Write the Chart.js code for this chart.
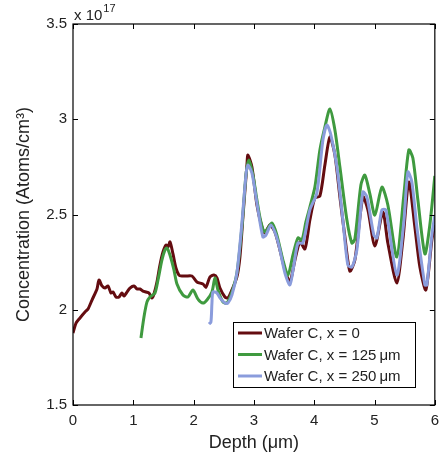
<!DOCTYPE html>
<html>
<head>
<meta charset="utf-8">
<script src="https://cdn.jsdelivr.net/npm/chart.js@4"></script>
<style>
  html, body { margin: 0; padding: 0; background: #fff; }
  #wrap { width: 446px; height: 458px; }
</style>
</head>
<body>
<div id="wrap"><canvas id="chart" width="446" height="458"></canvas></div>
<script>
// depth in µm, concentration in units of 1e17 atoms/cm³
const depthX0 = [0, 0.05, 0.116, 0.199, 0.249, 0.315, 0.398, 0.431, 0.481, 0.53, 0.58, 0.63, 0.663, 0.713, 0.762, 0.812, 0.845, 0.895, 0.945, 1.011, 1.061, 1.111, 1.16, 1.21, 1.26, 1.309, 1.343, 1.392, 1.442, 1.492, 1.542, 1.575, 1.608, 1.658, 1.707, 1.757, 1.807, 1.873, 1.972, 2.055, 2.155, 2.205, 2.271, 2.337, 2.387, 2.437, 2.519, 2.569, 2.635, 2.718, 2.768, 2.818, 2.884, 2.901, 2.967, 3.05, 3.133, 3.183, 3.265, 3.348, 3.431, 3.514, 3.597, 3.68, 3.763, 3.846, 3.928, 4.011, 4.094, 4.177, 4.26, 4.343, 4.426, 4.509, 4.591, 4.674, 4.807, 4.89, 5.006, 5.138, 5.221, 5.37, 5.47, 5.569, 5.669, 5.752, 5.851, 5.951, 6.0];
const concX0 = [1.878, 1.93, 1.957, 1.988, 2.004, 2.051, 2.109, 2.156, 2.125, 2.114, 2.125, 2.088, 2.093, 2.067, 2.067, 2.088, 2.072, 2.093, 2.114, 2.125, 2.109, 2.109, 2.098, 2.093, 2.088, 2.062, 2.083, 2.146, 2.235, 2.303, 2.34, 2.329, 2.356, 2.293, 2.219, 2.182, 2.177, 2.177, 2.177, 2.146, 2.135, 2.119, 2.172, 2.182, 2.167, 2.114, 2.067, 2.062, 2.104, 2.172, 2.277, 2.487, 2.76, 2.812, 2.749, 2.55, 2.434, 2.403, 2.445, 2.408, 2.314, 2.209, 2.146, 2.261, 2.356, 2.319, 2.471, 2.587, 2.597, 2.76, 2.907, 2.812, 2.592, 2.382, 2.203, 2.261, 2.592, 2.524, 2.335, 2.513, 2.35, 2.14, 2.366, 2.671, 2.434, 2.224, 2.104, 2.366, 2.445];

const depthX125 = [1.127, 1.177, 1.227, 1.276, 1.359, 1.409, 1.475, 1.525, 1.558, 1.608, 1.674, 1.724, 1.823, 1.906, 1.989, 2.072, 2.155, 2.221, 2.304, 2.354, 2.403, 2.486, 2.553, 2.635, 2.718, 2.801, 2.868, 2.917, 2.984, 3.05, 3.116, 3.183, 3.298, 3.381, 3.481, 3.564, 3.647, 3.73, 3.796, 3.862, 3.928, 4.011, 4.094, 4.177, 4.26, 4.343, 4.426, 4.542, 4.625, 4.674, 4.774, 4.84, 4.923, 5.006, 5.122, 5.221, 5.37, 5.486, 5.569, 5.636, 5.719, 5.835, 5.917, 6.0];
const concX125 = [1.852, 1.962, 2.041, 2.067, 2.088, 2.156, 2.261, 2.314, 2.324, 2.287, 2.209, 2.135, 2.077, 2.067, 2.104, 2.056, 2.035, 2.051, 2.093, 2.167, 2.104, 2.041, 2.035, 2.093, 2.193, 2.434, 2.707, 2.786, 2.707, 2.576, 2.461, 2.408, 2.455, 2.392, 2.261, 2.182, 2.287, 2.377, 2.366, 2.461, 2.539, 2.644, 2.839, 2.959, 3.054, 2.944, 2.749, 2.471, 2.35, 2.371, 2.655, 2.707, 2.608, 2.497, 2.644, 2.55, 2.277, 2.602, 2.839, 2.797, 2.576, 2.293, 2.445, 2.702];

const depthX250 = [2.254, 2.287, 2.304, 2.321, 2.387, 2.437, 2.519, 2.569, 2.635, 2.718, 2.801, 2.868, 2.901, 2.967, 3.05, 3.149, 3.199, 3.282, 3.365, 3.431, 3.514, 3.597, 3.663, 3.73, 3.812, 3.928, 4.044, 4.144, 4.21, 4.277, 4.376, 4.475, 4.558, 4.625, 4.707, 4.807, 4.873, 4.989, 5.039, 5.122, 5.188, 5.37, 5.486, 5.553, 5.619, 5.702, 5.835, 5.868, 5.951, 6.0];
const concX250 = [1.925, 1.936, 2.035, 2.093, 2.088, 2.062, 2.035, 2.035, 2.077, 2.193, 2.455, 2.707, 2.76, 2.718, 2.56, 2.382, 2.392, 2.445, 2.392, 2.314, 2.193, 2.13, 2.235, 2.35, 2.35, 2.524, 2.613, 2.891, 2.97, 2.917, 2.749, 2.471, 2.235, 2.224, 2.314, 2.618, 2.592, 2.392, 2.377, 2.524, 2.524, 2.182, 2.461, 2.723, 2.671, 2.434, 2.13, 2.13, 2.392, 2.497];

const seriesLabels = ['Wafer C, x = 0', 'Wafer C, x = 125\u2009\u03bcm', 'Wafer C, x = 250\u2009\u03bcm'];
const seriesColors = ['#640c10', '#3f9a3f', '#8a9cdc'];
const xTicks = [0, 1, 2, 3, 4, 5, 6];
const yTicks = [1.5, 2, 2.5, 3, 3.5];

const FONT = 'Liberation Sans, Arial, Helvetica, sans-serif';

const toPoints = (xs, ys) => xs.map((x, i) => ({ x, y: ys[i] }));

// frame, inward ticks, exponent note and the boxed legend
const decorations = {
  id: 'decorations',
  afterDraw(chart) {
    const { ctx, chartArea: a, scales: { x, y } } = chart;
    ctx.save();
    ctx.strokeStyle = '#000';
    ctx.lineWidth = 1.2;
    ctx.strokeRect(a.left, a.top, a.right - a.left, a.bottom - a.top);

    const tl = 5;
    ctx.lineWidth = 1;
    ctx.beginPath();
    xTicks.forEach((v) => {
      const px = Math.round(x.getPixelForValue(v)) + 0.5;
      ctx.moveTo(px, a.bottom); ctx.lineTo(px, a.bottom - tl);
      ctx.moveTo(px, a.top); ctx.lineTo(px, a.top + tl);
    });
    yTicks.forEach((v) => {
      const py = Math.round(y.getPixelForValue(v)) + 0.5;
      ctx.moveTo(a.left, py); ctx.lineTo(a.left + tl, py);
      ctx.moveTo(a.right, py); ctx.lineTo(a.right - tl, py);
    });
    ctx.stroke();

    // x 10^17
    ctx.fillStyle = '#222';
    ctx.textBaseline = 'alphabetic';
    ctx.textAlign = 'left';
    ctx.font = `15px ${FONT}`;
    ctx.fillText('x 10', a.left + 1, a.top - 4);
    const w = ctx.measureText('x 10').width;
    ctx.font = `11px ${FONT}`;
    ctx.fillText('17', a.left + 2 + w, a.top - 12);

    // legend
    const lx = 233, ly = 322, lw = 182, lh = 65;
    ctx.fillStyle = '#fff';
    ctx.fillRect(lx, ly, lw, lh);
    ctx.strokeStyle = '#000';
    ctx.lineWidth = 1;
    ctx.strokeRect(lx + 0.5, ly + 0.5, lw, lh);
    ctx.font = `15px ${FONT}`;
    ctx.textBaseline = 'middle';
    seriesLabels.forEach((label, i) => {
      const ry = ly + 11 + i * 21.5;
      ctx.strokeStyle = seriesColors[i];
      ctx.lineWidth = 3;
      ctx.beginPath();
      ctx.moveTo(lx + 5, ry); ctx.lineTo(lx + 29, ry);
      ctx.stroke();
      ctx.fillStyle = '#222';
      ctx.fillText(label, lx + 31, ry + 1);
    });
    ctx.restore();
  },
};

new Chart(document.getElementById('chart'), {
  type: 'line',
  data: {
    datasets: [
      { label: seriesLabels[0], data: toPoints(depthX0, concX0), borderColor: seriesColors[0], order: 2 },
      { label: seriesLabels[1], data: toPoints(depthX125, concX125), borderColor: seriesColors[1], order: 1 },
      { label: seriesLabels[2], data: toPoints(depthX250, concX250), borderColor: seriesColors[2], order: 0 },
    ],
  },
  options: {
    responsive: false,
    animation: false,
    layout: { padding: { top: 24, right: 11, left: 0, bottom: 0 } },
    elements: {
      line: { borderWidth: 3, tension: 0.25, fill: false },
      point: { radius: 0 },
    },
    plugins: { legend: { display: false }, tooltip: { enabled: false } },
    scales: {
      x: {
        type: 'linear',
        min: 0,
        max: 6,
        afterBuildTicks: (s) => { s.ticks = xTicks.map((v) => ({ value: v })); },
        afterFit: (s) => { s.height = 53; },
        grid: { display: false, drawTicks: false },
        border: { display: false },
        ticks: { color: '#222', font: { family: FONT, size: 15 }, padding: 7, callback: (v) => String(v) },
        title: {
          display: true,
          text: 'Depth (\u03bcm)',
          color: '#222',
          font: { family: FONT, size: 18 },
          padding: { top: 0, bottom: 4 },
        },
      },
      y: {
        min: 1.5,
        max: 3.5,
        afterBuildTicks: (s) => { s.ticks = yTicks.map((v) => ({ value: v })); },
        afterFit: (s) => { s.width = 73; },
        grid: { display: false, drawTicks: false },
        border: { display: false },
        ticks: { color: '#222', font: { family: FONT, size: 15 }, padding: 6, callback: (v) => String(v) },
        title: {
          display: true,
          text: 'Concentration (Atoms/cm\u00b3)',
          color: '#222',
          font: { family: FONT, size: 18 },
          padding: { top: 13, bottom: 0 },
        },
      },
    },
  },
  plugins: [decorations],
});
</script>
</body>
</html>
